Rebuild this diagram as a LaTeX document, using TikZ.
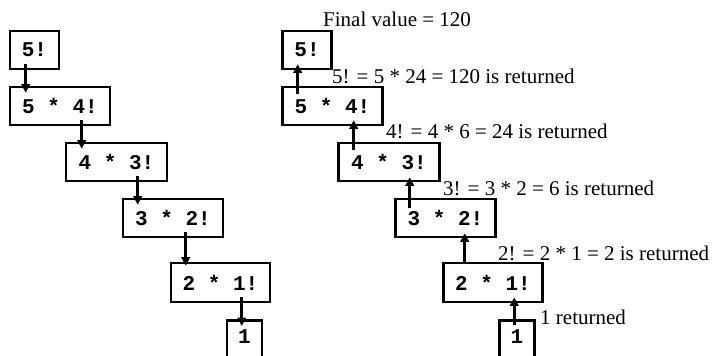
\documentclass[tikz,border=0pt]{standalone}
\usepackage{fontspec}
\setmainfont{Liberation Serif}
\setmonofont{Liberation Mono}
\usetikzlibrary{arrows.meta,calc}
\begin{document}
\begin{tikzpicture}[x=1pt,y=-1pt,
  box/.style={draw,line width=2.6pt,minimum height=38pt,inner sep=0pt,
    font=\fontsize{21}{21}\selectfont\ttfamily\bfseries},
  arr/.style={line width=2.6pt,-{Triangle[length=8.5pt,width=8.5pt]}},
  lbl/.style={anchor=base west,inner sep=0pt,font=\fontsize{21}{21}\selectfont}]
\clip (0,0) rectangle (713,356);
% left column
\node[box,minimum width=49pt] (a1) at (34.5,50) {5!};
\node[box,minimum width=100pt] (a2) at (60,106) {5 * 4!};
\node[box,minimum width=101pt] (a3) at (116.5,162) {4 * 3!};
\node[box,minimum width=100pt] (a4) at (173,218) {3 * 2!};
\node[box,minimum width=99pt,minimum height=39pt] (a5) at (220.5,282.5) {2 * 1!};
\node[box,minimum width=35pt,minimum height=60pt,text depth=28pt,anchor=north] (a6) at (244.5,319) {1};
% right column
\node[box,minimum width=49pt] (b1) at (307,50) {5!};
\node[box,minimum width=100pt] (b2) at (332.5,106) {5 * 4!};
\node[box,minimum width=101pt] (b3) at (389,162) {4 * 3!};
\node[box,minimum width=100pt] (b4) at (445.5,218) {3 * 2!};
\node[box,minimum width=99pt,minimum height=39pt] (b5) at (493,282.5) {2 * 1!};
\node[box,minimum width=35pt,minimum height=60pt,text depth=28pt,anchor=north] (b6) at (517,319) {1};
% downward calls
\draw[arr] ($(a1.south west)+(17,-6)$) -- ($(a2.north west)+(17,7)$);
\draw[arr] ($(a2.south west)+(73,-6)$) -- ($(a3.north west)+(17,7)$);
\draw[arr] ($(a3.south west)+(73,-6)$) -- ($(a4.north west)+(16,7)$);
\draw[arr] ($(a4.south west)+(64,-6)$) -- ($(a5.north west)+(16,4)$);
\draw[arr] ($(a5.south west)+(72,-6)$) -- ($(a6.north west)+(16,7)$);
% upward returns
\draw[arr] ($(b2.north west)+(16.5,8)$) -- ($(b1.south west)+(16.5,-6)$);
\draw[arr] ($(b3.north west)+(16.5,8)$) -- ($(b2.south west)+(72.5,-6)$);
\draw[arr] ($(b4.north west)+(15.5,10)$) -- ($(b3.south west)+(72.5,-5)$);
\draw[arr] ($(b5.north west)+(22.5,0)$) -- ($(b4.south west)+(70.5,-5)$);
\draw[arr] ($(b6.north west)+(16,6)$) -- ($(b5.south west)+(72,-6)$);
% labels
\node[lbl] (l0) at (323,27) {Final value = 120};
\node[lbl] (l1) at (332,83) {5! = 5 * 24 = 120 is returned};
\node[lbl] (l2) at (386,138.5) {4! = 4 * 6 = 24 is returned};
\node[lbl] (l3) at (443,195) {3! = 3 * 2 = 6 is returned};
\node[lbl] (l4) at (498,260) {2! = 2 * 1 = 2 is returned};
\node[lbl] (l5) at (540,324) {1 returned};
\end{tikzpicture}
\end{document}
